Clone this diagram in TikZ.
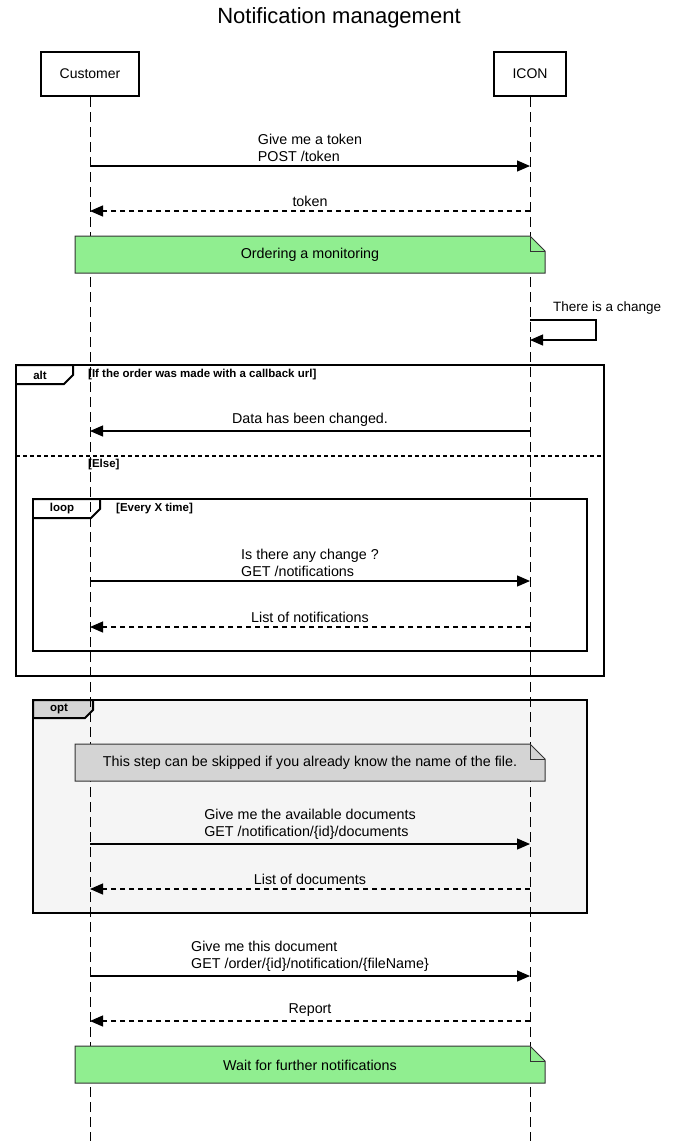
\documentclass[tikz,border=0pt]{standalone}
\usepackage{fontspec}
\setmainfont{Liberation Sans}
\usetikzlibrary{positioning, calc, arrows.meta}

\definecolor{notegreen}{HTML}{90EE90}
\definecolor{notegray}{HTML}{D4D4D4}
\definecolor{optgray}{HTML}{F5F5F5}
\definecolor{edgegray}{HTML}{333333}

\tikzset{
	party/.style={draw, line width=2pt, minimum height=44pt, font=\fontsize{14}{17}\selectfont},
	lifeline/.style={line width=1pt, dash pattern=on 10pt off 5pt},
	call/.style={line width=1.2pt, -{Triangle[length=13pt,width=11pt]}},
	reply/.style={call, dash pattern=on 5pt off 4pt},
	msgtext/.style={font=\fontsize{14.3}{17}\selectfont, align=left, inner sep=0pt},
	frame/.style={line width=2pt},
	framelabel/.style={font=\fontsize{11.5}{13}\selectfont\bfseries, inner sep=0pt},
	note/.style={draw=edgegray, line width=1pt}
}

\begin{document}
\begin{tikzpicture}[x=1pt, y=-1pt]
	\useasboundingbox (0,0) rectangle (678,1141);
	\node[font=\fontsize{22}{26}\selectfont] (title) at (339,18) {Notification management};
	
	\node[party, minimum width=98pt] (cust) at (90,74) {Customer};
	\node[party, minimum width=72pt] (icon) at (530,74) {ICON};
	
	% opt frame sits under the lifelines
	\draw[frame, fill=optgray] (33,700) rectangle (587,913);
	\draw[frame, fill=notegray] (33,700) -- (93,700) -- (93,710) -- (85,718) -- (33,718) -- cycle;
	\node[framelabel] (opttab) at (59,709) {opt};
	
	% lifelines
	\coordinate (custend) at (90,1141);
	\coordinate (iconend) at (530,1141);
	\draw[lifeline] (cust) -- (custend);
	\draw[lifeline] (icon) -- (iconend);
	
	% message rows
	\foreach \n/\y in {a/166, b/211, c/431, d/581, e/627, f/844, g/889, h/976, i/1021}
	{
		\coordinate (c\n) at (90,\y);
		\coordinate (i\n) at (530,\y);
	}
	
	\draw[call] (ca) -- (ia) node[msgtext, midway, above=4pt] {Give me a token\\POST /token};
	\draw[reply] (ib) -- (cb) node[msgtext, midway, above=4pt] {token};
	
	\draw[note, fill=notegreen] (75,236) -- (530,236) -- (545,251) -- (545,273) -- (75,273) -- cycle;
	\draw[note] (530,236) -- (530,251) -- (545,251);
	\node[msgtext] (order) at (310,255) {Ordering a monitoring};
	
	% self call on ICON
	\coordinate (selfout) at (530,320);
	\coordinate (selfin) at (530,340);
	\draw[call] (selfout) -- ++(66,0) -- ++(0,20) -- (selfin);
	\node[msgtext, anchor=west, font=\fontsize{13.5}{16}\selectfont] (change) at (553,308) {There is a change};
	
	% alt frame
	\draw[frame] (16,365) rectangle (604,676);
	\draw[frame] (16,365) -- (73,365) -- (73,375) -- (64,384) -- (16,384);
	\node[framelabel] (alttab) at (40,375) {alt};
	\node[framelabel, anchor=west] (ifcb) at (88,375) {[If the order was made with a callback url]};
	\draw[call] (ic) -- (cc) node[msgtext, midway, above=4pt] {Data has been changed.};
	\draw[line width=2pt, dash pattern=on 4pt off 3pt] (16,456) -- (604,456);
	\node[framelabel, anchor=west] (else) at (88,465) {[Else]};
	
	% loop frame
	\draw[frame] (33,499) rectangle (587,651);
	\draw[frame] (33,499) -- (100,499) -- (100,509) -- (91,518) -- (33,518);
	\node[framelabel] (looptab) at (62,509) {loop};
	\node[framelabel, anchor=west] (every) at (116,509) {[Every X time]};
	\draw[call] (cd) -- (id) node[msgtext, midway, above=4pt] {Is there any change ?\\GET /notifications};
	\draw[reply] (ie) -- (ce) node[msgtext, midway, above=4pt] {List of notifications};
	
	% opt content
	\draw[note, fill=notegray] (75,744) -- (530,744) -- (545,759) -- (545,781) -- (75,781) -- cycle;
	\draw[note] (530,744) -- (530,759) -- (545,759);
	\node[msgtext] (skip) at (310,763) {This step can be skipped if you already know the name of the file.};
	\draw[call] (cf) -- (if) node[msgtext, midway, above=4pt] {Give me the available documents\\GET /notification/\{id\}/documents};
	\draw[reply] (ig) -- (cg) node[msgtext, midway, above=4pt] {List of documents};
	
	\draw[call] (ch) -- (ih) node[msgtext, midway, above=4pt] {Give me this document\\GET /order/\{id\}/notification/\{fileName\}};
	\draw[reply] (ii) -- (ci) node[msgtext, midway, above=4pt] {Report};
	
	\draw[note, fill=notegreen] (75,1046) -- (530,1046) -- (545,1061) -- (545,1083) -- (75,1083) -- cycle;
	\draw[note] (530,1046) -- (530,1061) -- (545,1061);
	\node[msgtext] (wait) at (310,1065) {Wait for further notifications};
\end{tikzpicture}
\end{document}
